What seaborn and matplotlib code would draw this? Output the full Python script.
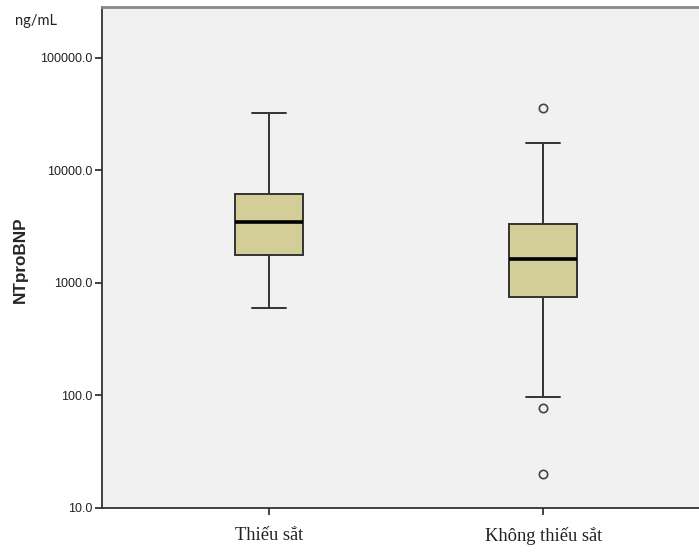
import matplotlib
matplotlib.use("Agg")
import matplotlib.pyplot as plt
import matplotlib.ticker as mticker
import pandas as pd
import seaborn as sns

# Valores (ng/mL)
groups = ["Thiếu sắt", "Không thiếu sắt"]
whisker_lo = [593, 97]
q1 = [1750, 741]
median = [3475, 1635]
q3 = [6120, 3300]
whisker_hi = [32300, 17500]
outliers = [[], [20, 77, 35500]]
y_ticks = [10, 100, 1000, 10000, 100000]


def sample_from_stats(lo, a, med, b, hi, extra):
    """Monta uma amostra cujos quartis e bigodes são exatamente os dados."""
    low = sorted([v for v in extra if v < lo] + [lo])
    high = sorted([hi] + [v for v in extra if v > hi])
    m = max(len(low), len(high), 1)
    return low + [a] * (2 * m - len(low)) + [med] + [b] * (2 * m - len(high)) + high


rows = []
for i, g in enumerate(groups):
    vals = sample_from_stats(whisker_lo[i], q1[i], median[i], q3[i], whisker_hi[i], outliers[i])
    rows += [(g, v) for v in vals]
df = pd.DataFrame(rows, columns=["grupo", "valor"])

sns.set_style("ticks")
plt.rcParams["font.family"] = ["Liberation Sans", "DejaVu Sans"]

fig = plt.figure(figsize=(6.99, 5.52), dpi=100)
ax = fig.add_axes([0.146, 0.080, 0.870, 0.907])
ax.set_facecolor("#F0F1F0")

sns.boxplot(
    data=df,
    x="grupo",
    y="valor",
    order=groups,
    log_scale=True,
    width=0.25,
    color="#D3CE97",
    saturation=1,
    linecolor="#333333",
    linewidth=1.4,
    flierprops=dict(marker="o", markersize=6, markerfacecolor="none",
                    markeredgecolor="#444444", markeredgewidth=1.2),
    medianprops=dict(color="black", linewidth=2.6),
    ax=ax,
)

ax.set_xlim(-0.609, 1.609)
ax.set_ylim(10, 2.8e5)
ax.yaxis.set_major_locator(mticker.FixedLocator(y_ticks))
ax.yaxis.set_minor_locator(mticker.NullLocator())
ax.yaxis.set_major_formatter(mticker.FuncFormatter(lambda v, _: f"{v:.1f}"))

ax.tick_params(axis="y", direction="out", length=5, width=1.3, color="#333333",
               labelsize=9, labelcolor="#222222", pad=2)
ax.tick_params(axis="x", direction="out", length=5, width=1.3, color="#333333",
               labelsize=13.3, labelcolor="#222222", pad=9)
for lbl in ax.get_xticklabels():
    lbl.set_fontfamily("Liberation Serif")

for side in ["left", "bottom"]:
    ax.spines[side].set_color("#333333")
    ax.spines[side].set_linewidth(1.3)
ax.spines["top"].set_color("#888888")
ax.spines["top"].set_linewidth(2)
ax.spines["right"].set_visible(False)

ax.set_xlabel("")
ax.set_ylabel("NTproBNP", fontsize=12.3, fontweight="bold")
ax.yaxis.set_label_coords(-0.122, 0.496)

fig.text(15 / 699, 1 - 21 / 552, "ng/mL", fontsize=10.5, family="Lato",
         ha="left", va="center", color="#222222")

fig.savefig("out.png", dpi=100, facecolor="white")
plt.close(fig)
